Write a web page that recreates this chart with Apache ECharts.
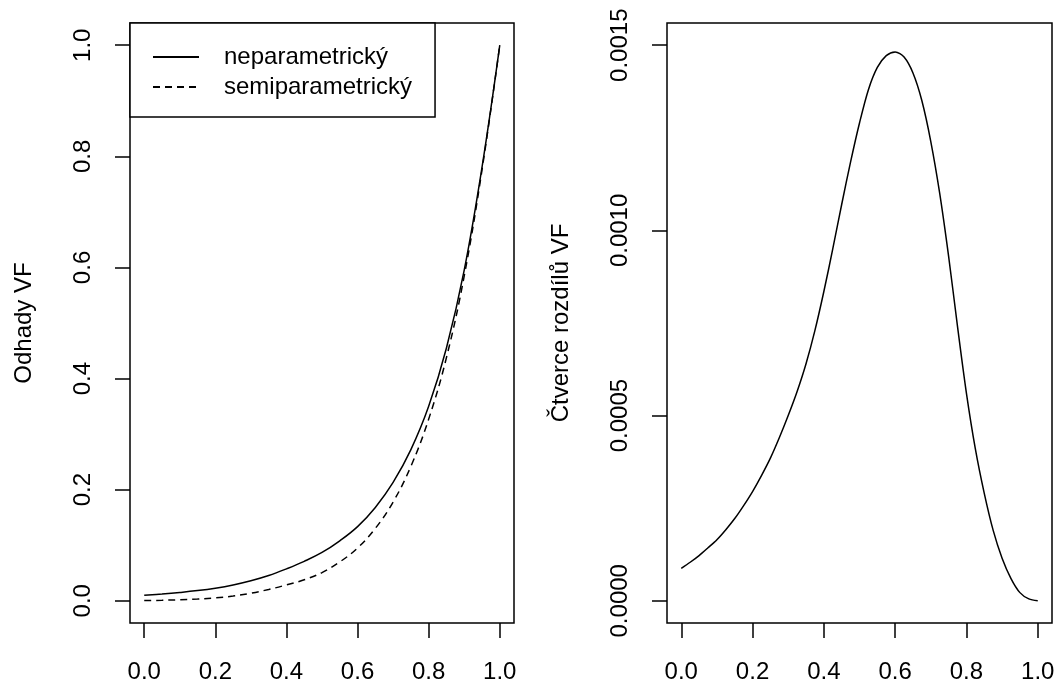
<!DOCTYPE html>
<html>
<head>
<meta charset="utf-8">
<script src="https://cdn.jsdelivr.net/npm/echarts@6/dist/echarts.min.js"></script>
<style>
html,body{margin:0;padding:0;background:#fff;}
#chart{width:1060px;height:684px;}
</style>
</head>
<body>
<div id="chart"></div>
<script>
// ---- data ----
var xs = [0, 0.05, 0.1, 0.15, 0.2, 0.25, 0.3, 0.35, 0.4, 0.45, 0.5, 0.55, 0.6, 0.65, 0.7, 0.75, 0.8, 0.85, 0.9, 0.95, 1.0];
var neparametricky = [0.0098, 0.0121, 0.0149, 0.0183, 0.0227, 0.0285, 0.0360, 0.0455, 0.0575, 0.0710, 0.0870, 0.1080, 0.1335, 0.1680, 0.2130, 0.2720, 0.3500, 0.4550, 0.5950, 0.7800, 1.0000];
var semiparametricky = [0.0004, 0.0009, 0.0019, 0.0030, 0.0051, 0.0085, 0.0135, 0.0204, 0.0285, 0.0378, 0.0507, 0.0699, 0.0950, 0.1303, 0.1778, 0.2420, 0.3270, 0.4377, 0.5848, 0.7755, 1.0000];
var xs2 = [0, 0.025, 0.05, 0.075, 0.1, 0.125, 0.15, 0.175, 0.2, 0.225, 0.25, 0.275, 0.3, 0.325, 0.35, 0.375, 0.4, 0.425, 0.45, 0.475, 0.5,
           0.525, 0.55, 0.575, 0.6, 0.625, 0.65, 0.675, 0.7, 0.725, 0.75, 0.775, 0.8, 0.825, 0.85, 0.875, 0.9, 0.925, 0.95, 0.975, 1.0];
var ctverce = [0.0000876, 0.000104, 0.000122, 0.000143, 0.000165, 0.000192, 0.000222, 0.000257, 0.000295, 0.000338, 0.000385, 0.000440, 0.000500, 0.000565, 0.000640, 0.000730, 0.000835, 0.000950, 0.001070, 0.001185, 0.001290,
               0.001380, 0.001440, 0.001472, 0.001482, 0.001468, 0.001425, 0.001350, 0.001240, 0.001100, 0.000930, 0.000740, 0.000560, 0.000410, 0.000290, 0.000190, 0.000115, 0.000060, 0.000022, 0.000005, 0.0];
var xTicks = [0, 0.2, 0.4, 0.6, 0.8, 1.0];
var yTicksLeft = [0, 0.2, 0.4, 0.6, 0.8, 1.0];
var yTicksRight = [0, 0.0005, 0.0010, 0.0015];
var seriesNames = ['neparametrický', 'semiparametrický'];
var yTitleLeft = 'Odhady VF';
var yTitleRight = 'Čtverce rozdílů VF';

function pairs(x, y) { return x.map(function (v, i) { return [v, y[i]]; }); }

var FONT = 'Liberation Sans, Arial, Helvetica, sans-serif';
var FS = 24;
var black = '#000';

function xAxisDef(gi) {
  return {
    type: 'value', gridIndex: gi, min: -0.04, max: 1.04, position: 'bottom',
    axisLine: { show: false, onZero: false },
    splitLine: { show: false },
    axisTick: { show: true, inside: false, length: 15, lineStyle: { color: black, width: 1.5 }, customValues: xTicks },
    axisLabel: { customValues: xTicks, fontSize: FS, fontFamily: FONT, color: black, margin: 37,
      formatter: function (v) { return v.toFixed(1); } }
  };
}
function yAxisDef(gi, mn, mx, ticks, dec, title) {
  return {
    type: 'value', gridIndex: gi, min: mn, max: mx, position: 'left',
    name: title, nameLocation: 'middle', nameGap: 94, nameRotate: 90,
    nameTextStyle: { fontSize: FS, fontFamily: FONT, color: black },
    axisLine: { show: false, onZero: false },
    splitLine: { show: false },
    axisTick: { show: true, inside: false, length: 15, lineStyle: { color: black, width: 1.5 }, customValues: ticks },
    axisLabel: { customValues: ticks, rotate: 90, fontSize: FS, fontFamily: FONT, color: black, margin: 35,
      formatter: function (v) { return v.toFixed(dec); } }
  };
}

var chart = echarts.init(document.getElementById('chart'), null, { renderer: 'canvas' });
chart.setOption({
  animation: false,
  backgroundColor: '#fff',
  grid: [
    { left: 130, right: 546, top: 23, bottom: 61, show: true, borderColor: black, borderWidth: 1.5, backgroundColor: 'transparent' },
    { left: 667, right: 8, top: 23, bottom: 61, show: true, borderColor: black, borderWidth: 1.5, backgroundColor: 'transparent' }
  ],
  xAxis: [xAxisDef(0), xAxisDef(1)],
  yAxis: [
    yAxisDef(0, -0.04, 1.04, yTicksLeft, 1, yTitleLeft),
    yAxisDef(1, -0.00006, 0.00156, yTicksRight, 4, yTitleRight)
  ],
  legend: {
    orient: 'vertical', left: 130, top: 23,
    backgroundColor: '#fff', borderColor: black, borderWidth: 1.5,
    padding: [22, 23, 18, 22],
    itemWidth: 46, itemHeight: 24, itemGap: 6,
    itemStyle: { opacity: 0 },
    textStyle: { fontSize: FS, fontFamily: FONT, color: black, padding: [0, 0, 0, 20] },
    data: seriesNames
  },
  series: [
    { name: seriesNames[0], type: 'line', xAxisIndex: 0, yAxisIndex: 0, data: pairs(xs, neparametricky),
      showSymbol: false, symbol: 'none', smooth: 0.4, lineStyle: { color: black, width: 1.5, type: 'solid' }, itemStyle: { color: black } },
    { name: seriesNames[1], type: 'line', xAxisIndex: 0, yAxisIndex: 0, data: pairs(xs, semiparametricky),
      showSymbol: false, symbol: 'none', smooth: 0.4, lineStyle: { color: black, width: 1.5, type: [7, 5] }, itemStyle: { color: black } },
    { name: 'ctverce', type: 'line', xAxisIndex: 1, yAxisIndex: 1, data: pairs(xs2, ctverce),
      showSymbol: false, symbol: 'none', smooth: 0.3, lineStyle: { color: black, width: 1.5 }, itemStyle: { color: black } }
  ]
});
</script>
</body>
</html>
